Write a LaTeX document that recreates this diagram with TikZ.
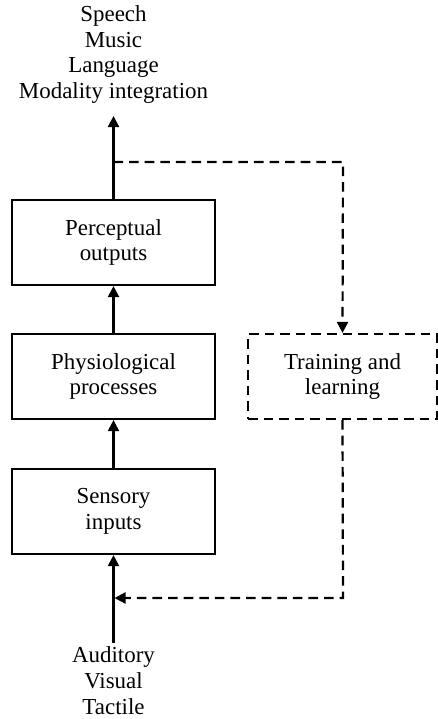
\documentclass[tikz,border=0pt]{standalone}
\usepackage{fontspec}
\setmainfont{Liberation Serif}
\usetikzlibrary{arrows.meta}
\begin{document}
\begin{tikzpicture}[x=0.5bp,y=-0.5bp,
  every node/.style={font=\fontsize{11.5}{13}\selectfont, align=center, inner sep=0pt},
  box/.style={draw, line width=1.1bp, minimum width=101.5bp, minimum height=42.5bp},
  dbox/.style={draw, line width=1.1bp, dash pattern=on 4.8bp off 3bp, minimum width=94.5bp, minimum height=42.5bp},
  arr/.style={line width=1.1bp, -{Triangle[length=5.5bp,width=5.5bp]}},
  darr/.style={line width=1.1bp, dash pattern=on 4.8bp off 3bp, -{Triangle[length=5.5bp,width=5.5bp]}}]
\useasboundingbox (0,0) rectangle (438,719);
\node (outtxt) at (113.5,54.5) {\fontsize{11.5}{12.75}\selectfont Speech\\Music\\Language\\Modality integration};
\node[box] (perc) at (113.5,242.5) {Perceptual\\outputs};
\node[box] (phys) at (113.5,376.5) {Physiological\\processes};
\node[box] (sens) at (113.5,511.5) {Sensory\\inputs};
\node[dbox] (train) at (342.5,376.5) {Training and\\learning};
\node (intxt) at (113.5,681) {\fontsize{11.5}{12.3}\selectfont Auditory\\Visual\\Tactile};
\coordinate (otip) at (113.5,116);
\coordinate (obr) at (113.5,162);
\coordinate (ocorner) at (343,162);
\coordinate (ibase) at (113.5,643);
\coordinate (icorner) at (343,598);
\coordinate (itip) at (114.5,598);
\draw[arr] (perc.north) -- (otip);
\draw[arr] (phys.north) -- (perc.south);
\draw[arr] (sens.north) -- (phys.south);
\draw[arr] (ibase) -- (sens.south);
\draw[darr] (obr) -- (ocorner) -- (train.north);
\draw[darr] (train.south) -- (icorner) -- (itip);
\end{tikzpicture}
\end{document}
